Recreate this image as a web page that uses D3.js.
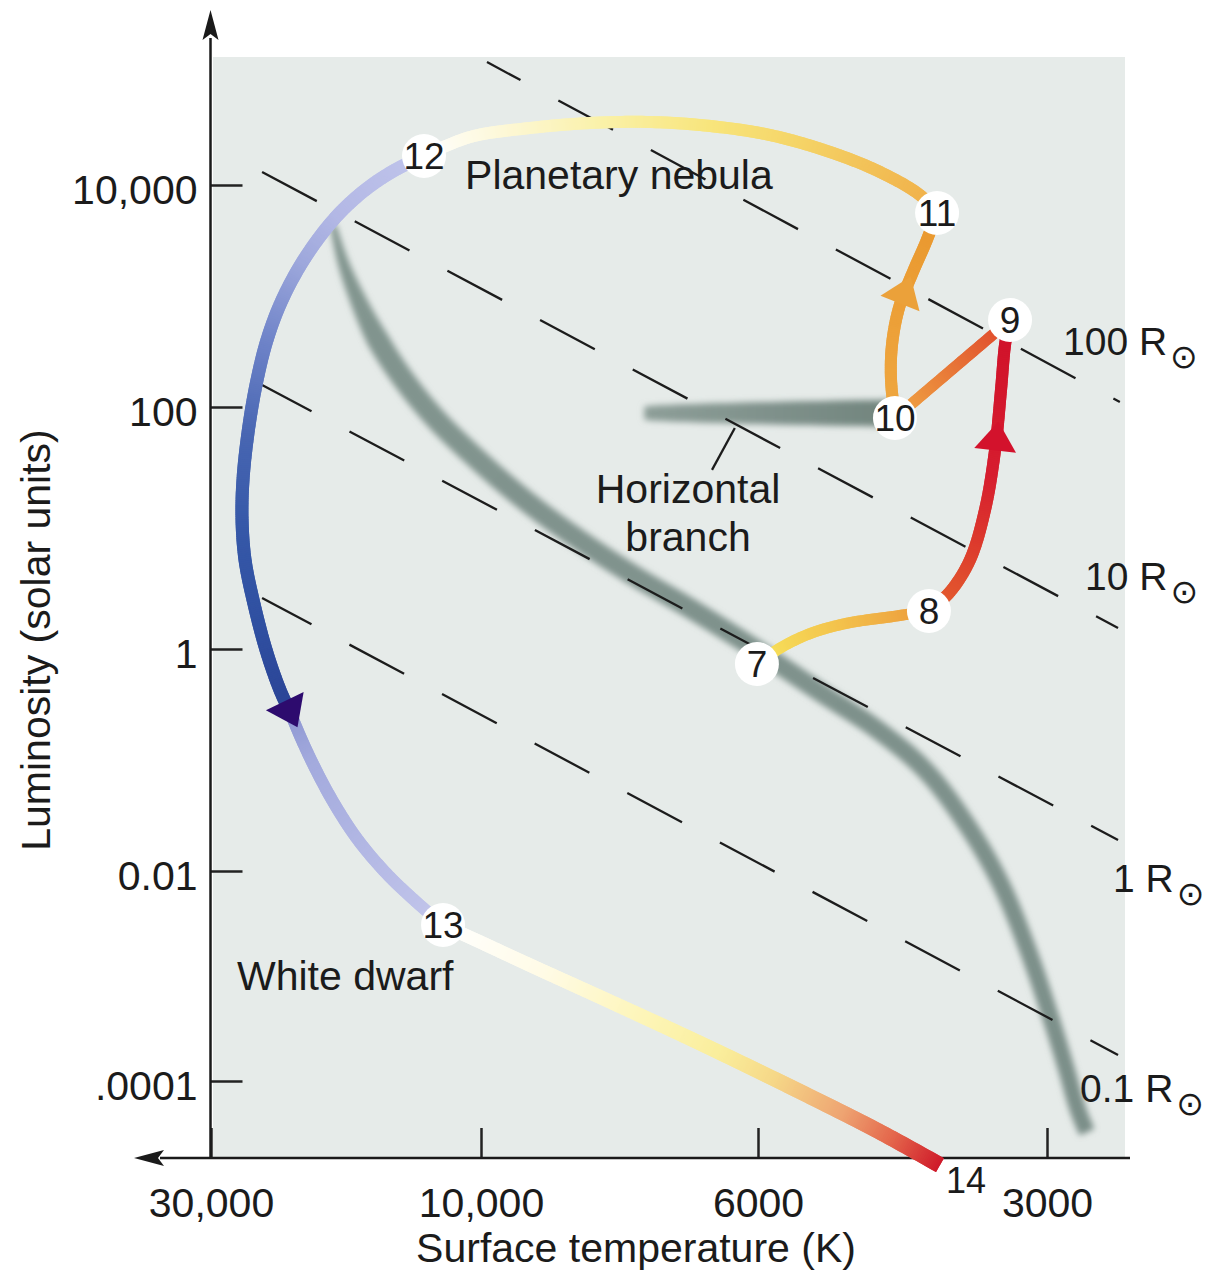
<!DOCTYPE html>
<html>
<head>
<meta charset="utf-8">
<title>Evolution of a Sun-like star</title>
<style>
  body { margin: 0; background: #fff; }
  text { font-family: "Liberation Sans", Arial, Helvetica, sans-serif; fill: #1b1b1b; }
</style>
</head>
<body>
<svg id="chart" width="1211" height="1288"></svg>
<script src="https://cdn.jsdelivr.net/npm/d3@7"></script>
<script>

// ---- data ----
var tempTicks = [30000, 10000, 6000, 3000];
var tempTickLabels = ["30,000", "10,000", "6000", "3000"];
var lumTicks = [10000, 100, 1, 0.01, 0.0001];
var lumTickLabels = ["10,000", "100", "1", "0.01", ".0001"];

// main sequence band (temperature K, luminosity Lsun)
var mainSeqT = [18260, 17530, 16490, 15210, 13680, 11970, 10120, 9222, 8408, 7599, 6805, 6012, 5171, 4499, 4019, 3652, 3358, 3140, 2979, 2866, 2785, 2726];
var mainSeqL = [4361, 2024, 920, 401, 175, 78.1, 36.5, 17.0, 8.42, 4.25, 2.18, 0.98, 0.41, 0.186, 0.0813, 0.0276, 0.00786, 0.00177, 4.25e-4, 1.33e-4, 5.29e-5, 3.27e-5];

// horizontal branch
var horizBranchT = [7400, 4300];
var horizBranchL = [89, 89];
var horizLeader = [[6531, 30.2], [6262, 67.1]];

// lines of constant radius
var radiusNames = ["100 R", "10 R", "1 R", "0.1 R"];
var radiusStartT = [9890, 24370, 24370, 24370];
var radiusStartL = [128000, 13100, 158, 2.64];
var radiusEndT = [2519, 2530, 2530, 2530];
var radiusEndL = [111, 1.49, 0.019, 1.77e-4];
var radiusLabelT = [2887, 2738, 2561, 2771];
var radiusLabelL = [294, 3.07, 0.00631, 6.31e-5];

// numbered stages
var stageNames = ["7", "8", "9", "10", "11", "12", "13", "14"];
var stageT = [6012, 3982, 3278, 4320, 3905, 12610, 11670, 3878];
var stageL = [0.733, 2.06, 608, 81.1, 5594, 18250, 0.00306, 1.58e-5];

// evolutionary track pieces [T, L]
var track7to8 = [[6012, 0.733], [5665, 1.04], [5271, 1.36], [4835, 1.64], [4372, 1.84], [3982, 2.06]];
var track8to9 = [[3982, 2.06], [3786, 2.96], [3609, 5.44], [3481, 14.1], [3398, 44.1], [3350, 142], [3318, 362], [3286, 583], [3278, 608]];
var track9to10 = [[3278, 608], [4320, 81.1]];
var track10to11 = [[4320, 81.1], [4361, 175], [4351, 362], [4279, 780], [4138, 1645], [4010, 3064], [3905, 5594]];
var track11to12 = [[3905, 5594], [4069, 8127], [4478, 13100], [5048, 19830], [5830, 28210], [6556, 34010], [7324, 36950], [8180, 36190], [9137, 32630], [10460, 27070], [12610, 18250]];
var track12toTurn = [[12610, 18250], [14190, 13650], [16030, 9015], [18110, 5043], [20470, 2200], [22470, 920], [23890, 401], [24980, 158], [25810, 61.0], [26340, 24.9], [26440, 11.6], [26120, 5.44], [25280, 2.54], [23980, 0.98], [22660, 0.427], [21750, 0.271]];
var trackTurnTo13 = [[21750, 0.271], [20810, 0.158], [19570, 0.0813], [18110, 0.0393], [16490, 0.0190], [14720, 0.00957], [13130, 0.00530], [11670, 0.00306]];
var track13to14 = [[11670, 0.00306], [10040, 0.00211], [9137, 0.00127], [8029, 6.31e-4], [6681, 2.30e-4], [5208, 6.59e-5], [4478, 3.27e-5], [3878, 1.58e-5]];

// ---- layout ----
var svg = d3.select("#chart");
var axisX = 210.5, axisY = 1158;

var x = d3.scaleLog().domain(tempTicks).range([211, 481, 758, 1047]);
var y = d3.scaleLog().domain(lumTicks).range([185, 407, 649, 871, 1081]);

var line = d3.line()
    .x(function(d) { return x(d[0]); })
    .y(function(d) { return y(d[1]); })
    .curve(d3.curveCatmullRom.alpha(0.5));

var defs = svg.append("defs");
defs.append("filter")
    .attr("id", "soft")
    .attr("filterUnits", "userSpaceOnUse")
    .attr("x", 0).attr("y", 0).attr("width", 1211).attr("height", 1288)
  .append("feGaussianBlur").attr("stdDeviation", 3.4);

// panel
svg.append("rect")
    .attr("x", 213).attr("y", 57)
    .attr("width", 912).attr("height", axisY - 57)
    .attr("fill", "#e6ebe9");

// axes
var yAxis = d3.axisLeft(y)
    .tickValues(lumTicks)
    .tickFormat(function(d) { return lumTickLabels[lumTicks.indexOf(d)]; })
    .tickSizeInner(-32).tickSizeOuter(0).tickPadding(13);
svg.append("g")
    .attr("transform", "translate(" + axisX + ",0)")
    .call(yAxis)
    .call(function(g) { g.select(".domain").remove(); })
    .attr("font-size", 41).attr("font-family", null)
    .call(function(g) {
      g.selectAll("line").attr("stroke", "#222").attr("stroke-width", 2.5);
      g.selectAll("text").attr("dy", "0.45em");
    });

var xAxis = d3.axisBottom(x)
    .tickValues(tempTicks)
    .tickFormat(function(d) { return tempTickLabels[tempTicks.indexOf(d)]; })
    .tickSizeInner(-30).tickSizeOuter(0).tickPadding(30);
svg.append("g")
    .attr("transform", "translate(0," + axisY + ")")
    .call(xAxis)
    .call(function(g) { g.select(".domain").remove(); })
    .attr("font-size", 41).attr("font-family", null)
    .call(function(g) {
      g.selectAll("line").attr("stroke", "#222").attr("stroke-width", 2.5);
    });

// axis lines with arrow heads
svg.append("path")
    .attr("d", "M" + axisX + "," + (axisY + 1) + "V38")
    .attr("stroke", "#1a1a1a").attr("stroke-width", 2.5);
svg.append("path")
    .attr("d", "M" + axisX + ",10L" + (axisX - 8) + ",40L" + axisX + ",34L" + (axisX + 8) + ",40Z")
    .attr("fill", "#1a1a1a");
svg.append("path")
    .attr("d", "M1130," + axisY + "H160")
    .attr("stroke", "#1a1a1a").attr("stroke-width", 2.5);
svg.append("path")
    .attr("d", "M134," + axisY + "L164," + (axisY - 8) + "L158," + axisY + "L164," + (axisY + 8) + "Z")
    .attr("fill", "#1a1a1a");

// stroke drawn as many short pieces so colour and width can change along it
function sampledStroke(parent, pts, stops, widthAt, step) {
  var guide = parent.append("path").attr("d", line(pts)).attr("fill", "none").attr("stroke", "none");
  var node = guide.node(), len = node.getTotalLength();
  var color = d3.scaleLinear()
      .domain(stops.map(function(s) { return s[0]; }))
      .range(stops.map(function(s) { return s[1]; }))
      .interpolate(d3.interpolateRgb).clamp(true);
  var n = Math.max(2, Math.ceil(len / step));
  var p = d3.range(n + 1).map(function(i) { return node.getPointAtLength(len * i / n); });
  guide.remove();
  var segs = d3.range(n).map(function(i) {
    return { a: p[i], b: p[Math.min(i + 2, n)], f: (i + 0.5) / n };
  });
  parent.append("g").selectAll("line")
    .data(segs)
    .enter().append("line")
      .attr("x1", function(s) { return s.a.x; })
      .attr("y1", function(s) { return s.a.y; })
      .attr("x2", function(s) { return s.b.x; })
      .attr("y2", function(s) { return s.b.y; })
      .attr("stroke", function(s) { return color(s.f); })
      .attr("stroke-width", function(s) { return widthAt(s.f); })
      .attr("stroke-linecap", "butt");
  return p;
}

// main sequence and horizontal branch, soft grey bands
var bands = svg.append("g").attr("filter", "url(#soft)");
var mainSeq = mainSeqT.map(function(t, i) { return [t, mainSeqL[i]]; });
sampledStroke(bands, mainSeq, [[0, "#82958f"], [1, "#7c8f89"]], function(f) {
  return f < 0.1 ? 6 + 16 * f / 0.1 : 22 - 6 * (f - 0.1) / 0.9;
}, 3);
var horizBranch = horizBranchT.map(function(t, i) { return [t, horizBranchL[i]]; });
sampledStroke(bands, horizBranch, [[0, "#8d9e98"], [0.5, "#7f918b"], [1, "#71847d"]], function(f) {
  return 13 + 14 * Math.pow(f, 0.6);
}, 3);

// constant radius lines
var dashOffsets = [24, 0, 6, 6];
var dashes = svg.append("g");
dashes.selectAll("line")
  .data(radiusNames)
  .enter().append("line")
    .attr("x1", function(d, i) { return x(radiusStartT[i]); })
    .attr("y1", function(d, i) { return y(radiusStartL[i]); })
    .attr("x2", function(d, i) { return x(radiusEndT[i]); })
    .attr("y2", function(d, i) { return y(radiusEndL[i]); })
    .attr("stroke", "#1c1c1c")
    .attr("stroke-width", 2.3)
    .attr("stroke-dasharray", "62,43")
    .attr("stroke-dashoffset", function(d, i) { return dashOffsets[i]; });

dashes.append("path")
    .attr("d", d3.line().x(function(d) { return x(d[0]); }).y(function(d) { return y(d[1]); })(horizLeader))
    .attr("stroke", "#1c1c1c").attr("stroke-width", 2.3);

// evolutionary track
var tracks = svg.append("g");
function constW(w) { return function() { return w; }; }

sampledStroke(tracks, track7to8, [[0, "#f7e45c"], [0.5, "#f3c24c"], [1, "#ec9a3c"]], constW(11), 2);
var p89 = sampledStroke(tracks, track8to9, [[0, "#e4622f"], [0.25, "#dd3d2d"], [0.5, "#d61d2f"], [1, "#d0112a"]], constW(12), 2);
sampledStroke(tracks, track9to10, [[0, "#df442b"], [1, "#f0a844"]], constW(11), 2);
var p1011 = sampledStroke(tracks, track10to11, [[0, "#efa740"], [1, "#e9982f"]], constW(12), 2);
sampledStroke(tracks, track11to12, [[0, "#f0ae48"], [0.12, "#f2bd54"], [0.3, "#f5d568"], [0.46, "#f8e57c"], [0.66, "#faf1a8"], [0.85, "#fdf8d8"], [1, "#ffffff"]], constW(12), 2);
var pBlue = sampledStroke(tracks, track12toTurn, [[0, "#c0c4eb"], [0.17, "#b3b8e5"], [0.26, "#9ea8dc"], [0.4, "#6e83c8"], [0.55, "#4866b2"], [0.7, "#3658a8"], [0.85, "#3050a1"], [1, "#2b4496"]], constW(13), 2);
sampledStroke(tracks, trackTurnTo13, [[0, "#8e97d2"], [0.2, "#a3aadd"], [1, "#c3c6eb"]], constW(12), 2);
sampledStroke(tracks, track13to14, [[0, "#ffffff"], [0.2, "#fffbe6"], [0.4, "#fdf5b8"], [0.55, "#faee9c"], [0.66, "#f6d888"], [0.8, "#eea472"], [0.9, "#e4674c"], [1, "#cf1a2a"]], function(f) { return 13 + 3 * f; }, 2);

// arrow heads placed along the sampled tracks
function arrowHead(p, frac, color) {
  var n = p.length - 1;
  var i = Math.round(frac * n);
  var a = p[Math.max(0, i - 2)], b = p[Math.min(n, i + 2)];
  var ang = Math.atan2(b.y - a.y, b.x - a.x) * 180 / Math.PI;
  tracks.append("path")
      .attr("d", "M17,0L-12,-21L-12,21Z")
      .attr("fill", color)
      .attr("transform", "translate(" + p[i].x + "," + p[i].y + ") rotate(" + ang + ")");
}
arrowHead(p89, 0.615, "#d3122c");
arrowHead(p1011, 0.6, "#eba13a");
arrowHead(pBlue, 1, "#2d0b6e");

// numbered stages
var stages = stageNames.map(function(s, i) { return { name: s, T: stageT[i], L: stageL[i] }; });
var marks = svg.append("g");
marks.selectAll("circle")
  .data(stages.filter(function(d) { return d.name !== "14"; }))
  .enter().append("circle")
    .attr("cx", function(d) { return x(d.T); })
    .attr("cy", function(d) { return y(d.L); })
    .attr("r", 22)
    .attr("fill", "#fff");
marks.selectAll("text")
  .data(stages)
  .enter().append("text")
    .attr("x", function(d) { return x(d.T); })
    .attr("y", function(d) { return y(d.L); })
    .attr("dx", function(d) { return d.name === "14" ? 6 : 0; })
    .attr("dy", function(d) { return d.name === "14" ? 28 : "0.36em"; })
    .attr("text-anchor", function(d) { return d.name === "14" ? "start" : "middle"; })
    .attr("font-size", function(d) { return d.name === "14" ? 36 : 37; })
    .text(function(d) { return d.name; });

// radius labels
var rl = svg.append("g").selectAll("text")
  .data(radiusNames)
  .enter().append("text")
    .attr("x", function(d, i) { return x(radiusLabelT[i]); })
    .attr("y", function(d, i) { return y(radiusLabelL[i]); })
    .attr("font-size", 39);
rl.append("tspan").text(function(d) { return d; });
rl.append("tspan")
    .attr("dx", 3).attr("dy", 13)
    .attr("font-size", 33)
    .style("font-family", "'DejaVu Sans', sans-serif")
    .text("\u2299");

// annotations
svg.append("text")
    .attr("x", x(10670)).attr("y", y(9204))
    .attr("font-size", 41)
    .text("Planetary nebula");
var hb = svg.append("text")
    .attr("x", x(6826)).attr("y", y(16.1))
    .attr("font-size", 41)
    .attr("text-anchor", "middle");
hb.append("tspan").text("Horizontal");
hb.append("tspan").attr("x", x(6826)).attr("dy", 48).text("branch");
svg.append("text")
    .attr("x", x(26990)).attr("y", y(7.36e-4))
    .attr("font-size", 41)
    .text("White dwarf");

// axis titles
svg.append("text")
    .attr("transform", "translate(50,640) rotate(-90)")
    .attr("text-anchor", "middle")
    .attr("font-size", 41)
    .text("Luminosity (solar units)");
svg.append("text")
    .attr("x", 636).attr("y", 1262)
    .attr("text-anchor", "middle")
    .attr("font-size", 41)
    .text("Surface temperature (K)");

</script>
</body>
</html>
